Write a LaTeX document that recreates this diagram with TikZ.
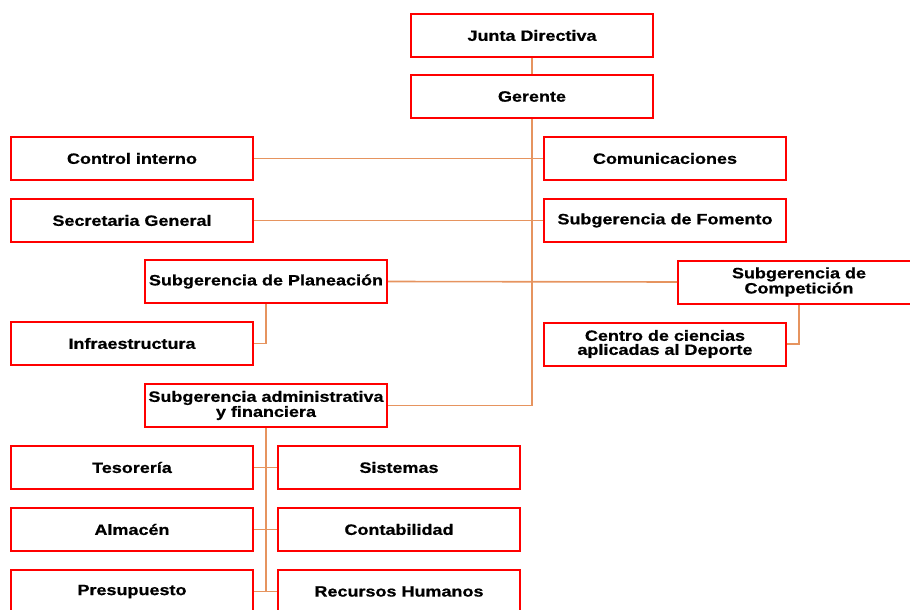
\documentclass[tikz,border=0pt]{standalone}
\usepackage{fontspec}
\setmainfont{Liberation Sans}[FakeStretch=1.2,BoldFeatures={FakeBold=0.6}]
\definecolor{boxred}{RGB}{255,0,0}
\definecolor{conn}{RGB}{230,148,95}
\begin{document}
\begin{tikzpicture}[x=1pt,y=-1pt,
  box/.style={draw=boxred,line width=2pt,fill=white,minimum width=242pt,minimum height=43pt,inner sep=0pt,align=center,font=\fontsize{15}{14}\selectfont\bfseries},
  link/.style={draw=conn,line width=1.6pt}]
\useasboundingbox (0,0) rectangle (910,610);
\node[box] (jd) at (532,35.5) {Junta Directiva};
\node[box] (ger) at (532,96.5) {Gerente};
\node[box] (ci) at (132,158.5) {Control interno};
\node[box] (com) at (665,158.5) {Comunicaciones};
\node[box] (sg) at (132,220.5) {Secretaria General};
\node[box] (fom) at (665,220.5) {Subgerencia de Fomento};
\node[box] (pla) at (266,281.5) {Subgerencia de Planeación};
\node[box] (comp) at (799,282) {Subgerencia de\\Competición};
\node[box] (inf) at (132,343.5) {Infraestructura};
\node[box] (cen) at (665,344) {Centro de ciencias\\aplicadas al Deporte};
\node[box] (adm) at (266,405.5) {Subgerencia administrativa\\y financiera};
\node[box] (tes) at (132,467.5) {Tesorería};
\node[box] (sis) at (399,467.5) {Sistemas};
\node[box] (alm) at (132,529.5) {Almacén};
\node[box] (con) at (399,529.5) {Contabilidad};
\node[box] (pre) at (132,591.5) {Presupuesto};
\node[box] (rh) at (399,591.5) {Recursos Humanos};
\draw[link] (jd.south) -- (ger.north);
\draw[link] (ger.south) -- (ger.south |- adm.east) -- (adm.east);
\draw[link] (ci.east) -- (com.west);
\draw[link] (sg.east) -- (fom.west);
\draw[link] (pla.east) -- (comp.west);
\draw[link] (pla.south) -- (pla.south |- inf.east) -- (inf.east);
\draw[link] (comp.south) -- (comp.south |- cen.east) -- (cen.east);
\draw[link] (adm.south) -- (adm.south |- rh.west);
\draw[link] (tes.east) -- (sis.west);
\draw[link] (alm.east) -- (con.west);
\draw[link] (pre.east) -- (rh.west);
\end{tikzpicture}
\end{document}
